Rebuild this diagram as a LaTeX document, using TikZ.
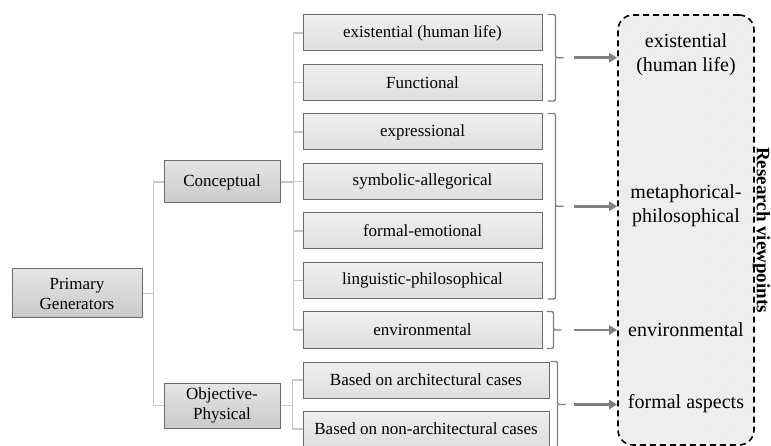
\documentclass[tikz,border=0pt]{standalone}
\usepackage{fontspec}
\setmainfont{Liberation Serif}
\usetikzlibrary{positioning,calc,arrows.meta,patterns}

\begin{document}
\begin{tikzpicture}[x=1pt,y=-1pt,
    genbox/.style={draw=gray!85!black,line width=1pt,top color=gray!20,bottom color=gray!42,
      align=center,inner sep=0pt,minimum width=116pt,font=\fontsize{17}{20}\selectfont},
    subbox/.style={draw=gray!85!black,line width=1pt,top color=gray!12,bottom color=gray!26,
      inner sep=0pt,minimum width=239pt,minimum height=36pt,font=\fontsize{17}{20}\selectfont},
    conn/.style={draw=gray!45,line width=1.6pt},
    brk/.style={draw=gray,line width=1.4pt,rounded corners=2pt},
    arr/.style={draw=gray,line width=2.6pt,-{Triangle[length=8pt,width=9pt]}},
    viewbox/.style={draw=black,dashed,line width=1.6pt,dash pattern=on 6pt off 4pt,rounded corners=15pt,
      minimum width=136pt,minimum height=430pt,preaction={fill=gray!9},
      pattern=north east lines,pattern color=gray!22},
    viewtext/.style={align=center,font=\fontsize{20}{24}\selectfont}]
  \useasboundingbox (0,0) rectangle (771,446);

  % research viewpoints
  \node[viewbox] (rv) at (686,230) {};
  \node[font=\bfseries\fontsize{19}{22}\selectfont,rotate=-90] (rvlabel) at (761.5,230) {Research viewpoints};
  \node[viewtext] (v1) at (686,55) {existential\\(human life)};
  \node[viewtext] (v2) at (686,206) {metaphorical-\\philosophical};
  \node[viewtext] (v3) at (686,330) {environmental};
  \node[viewtext] (v4) at (686,404) {formal aspects};

  % generators
  \node[genbox,minimum width=130pt,minimum height=49pt] (prim) at (77,293.5) {Primary\\Generators};
  \node[genbox,minimum height=42pt] (concept) at (222,182) {Conceptual};
  \node[genbox,minimum height=45pt] (objphys) at (222,405.5) {Objective-\\Physical};

  \node[subbox] (exist) at (422.5,33) {existential (human life)};
  \node[subbox] (func) at (422.5,82.5) {Functional};
  \node[subbox] (expr) at (422.5,132) {expressional};
  \node[subbox] (symb) at (422.5,181.5) {symbolic-allegorical};
  \node[subbox] (form) at (422.5,231) {formal-emotional};
  \node[subbox] (ling) at (422.5,280.5) {linguistic-philosophical};
  \node[subbox] (envi) at (422.5,330) {environmental};
  \node[subbox,minimum width=246pt] (arch) at (426,380) {Based on architectural cases};
  \node[subbox,minimum width=246pt] (nonarch) at (426,429) {Based on non-architectural cases};

  % tree
  \draw[conn] (prim.east) -- ++(11,0) coordinate (pb);
  \draw[conn] (pb) |- (concept.west);
  \draw[conn] (pb) |- (objphys.west);
  \draw[conn] (concept.east) -- ++(13,0) coordinate (cb);
  \foreach \n in {exist,func,expr,symb,form,ling,envi}
    \draw[conn] (cb) |- (\n.west);
  \draw[conn] (objphys.east) -- ++(12,0) coordinate (ob);
  \draw[conn] (ob) |- (arch.west);
  \draw[conn] (ob) |- (nonarch.west);

  % brackets
  \coordinate (g1) at ($(exist.north east)!.5!(func.south east)$);
  \coordinate (g2) at ($(expr.north east)!.5!(ling.south east)$);
  \coordinate (g3) at ($(envi.north east)!.5!(envi.south east)$);
  \coordinate (g4) at ($(arch.north east)!.5!(nonarch.south east)$);
  \draw[brk] ([xshift=5]exist.north east) -| ([xshift=13]g1) -- ++(8,0);
  \draw[brk] ([xshift=5]func.south east) -| ([xshift=13]g1);
  \draw[brk] ([xshift=5]expr.north east) -| ([xshift=13]g2) -- ++(8,0);
  \draw[brk] ([xshift=5]ling.south east) -| ([xshift=13]g2);
  \draw[brk] ([xshift=4]envi.north east) -| ([xshift=11]g3) -- ++(8,0);
  \draw[brk] ([xshift=4]envi.south east) -| ([xshift=11]g3);
  \draw[brk] ([xshift=1]arch.north east) -| ([xshift=8]g4) -- ++(8,0);
  \draw[brk] ([xshift=1]nonarch.south east) -| ([xshift=8]g4);

  % arrows
  \draw[arr] ([xshift=31]g1) -- (rv.west |- g1);
  \draw[arr] ([xshift=31]g2) -- (rv.west |- g2);
  \draw[arr] ([xshift=31]g3) -- (rv.west |- g3);
  \draw[arr] ([xshift=24]g4) -- (rv.west |- g4);
\end{tikzpicture}
\end{document}
